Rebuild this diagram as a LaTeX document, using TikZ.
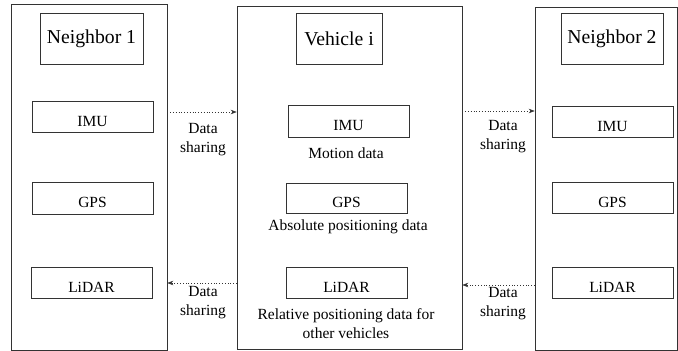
\documentclass[tikz,border=0pt]{standalone}
\usepackage{fontspec}
\setmainfont{Liberation Serif}
\usetikzlibrary{arrows.meta}
\begin{document}
\begin{tikzpicture}[x=1pt,y=-1pt,
  frame/.style={draw=black!80,line width=0.6pt,inner sep=0pt},
  unit/.style={frame,minimum width=121pt,minimum height=31pt,
    font=\fontsize{15.5}{19}\selectfont,text height=19pt,text depth=0pt},
  title/.style={frame,minimum height=51pt,font=\fontsize{19.7}{24}\selectfont},
  note/.style={align=center,inner sep=0pt,font=\fontsize{15.5}{19}\selectfont},
  share/.style={draw=black!80,line width=0.6pt,dash pattern=on 0.8pt off 2pt,
    -{Stealth[length=6pt,width=4.5pt]}}]
\useasboundingbox (0,0) rectangle (678,351);

% three vehicles
\node[frame,minimum width=156pt,minimum height=346pt] (L) at (89,177) {};
\node[frame,minimum width=225pt,minimum height=343pt] (M) at (349.5,177.5) {};
\node[frame,minimum width=142pt,minimum height=343pt] (R) at (606,178.5) {};

% titles
\node[title,minimum width=103pt] (Lt) at (91.5,38.5) {Neighbor 1};
\node[title,minimum width=86pt] (Mt) at (339,38.5) {Vehicle i};
\node[title,minimum width=102pt] (Rt) at (612,38.5) {Neighbor 2};

% sensors
\node[unit] (Limu) at (92.5,116.5) {IMU};
\node[unit,minimum height=32pt] (Lgps) at (92.5,198) {GPS};
\node[unit] (Llid) at (91.5,282.5) {LiDAR};

\node[unit,minimum height=32pt] (Mimu) at (348.5,121) {IMU};
\node[unit,minimum height=30pt] (Mgps) at (346.5,198) {GPS};
\node[unit] (Mlid) at (346.5,282.5) {LiDAR};

\node[unit] (Rimu) at (612.5,121.5) {IMU};
\node[unit] (Rgps) at (612.5,197.5) {GPS};
\node[unit] (Rlid) at (612.5,282.5) {LiDAR};

% sensor outputs of the ego vehicle
\node[note] (Mimuo) at (346,153) {Motion data};
\node[note] (Mgpso) at (348,227) {Absolute positioning data};
\node[note] (Mlido) at (346,324) {Relative positioning data for\\other vehicles};

% data sharing links
\coordinate (y1) at (0,112);
\coordinate (y2) at (0,283);
\coordinate (y3) at (0,111);
\coordinate (y4) at (0,285);
\draw[share] (L.east |- y1) -- (M.west |- y1);
\draw[share] (M.west |- y2) -- (L.east |- y2);
\draw[share] (M.east |- y3) -- (R.west |- y3);
\draw[share] (R.west |- y4) -- (M.east |- y4);

\node[note] (s1) at (203,139.5) {Data\\sharing};
\node[note] (s2) at (203,302.5) {Data\\sharing};
\node[note] (s3) at (503,136.5) {Data\\sharing};
\node[note] (s4) at (503,304) {Data\\sharing};
\end{tikzpicture}
\end{document}
